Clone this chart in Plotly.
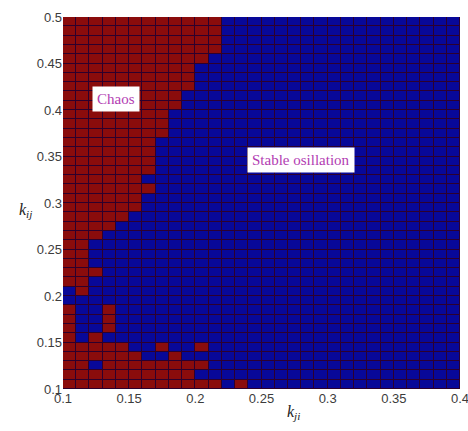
import plotly.graph_objects as go

# grid: k_ji (x) from 0.1 to 0.4 step 0.01, k_ij (y) from 0.1 to 0.5 step 0.01
x_centers = [round(0.105 + 0.01 * i, 3) for i in range(30)]
y_centers = [round(0.105 + 0.01 * j, 3) for j in range(40)]

# columns (0-based, x index) that are chaotic in each row (row 0 = bottom)
chaos_cols = [
    [0, 1, 2, 3, 4, 5, 6, 7, 8, 9, 10, 11, 13],   # r0
    [0, 1, 2, 3, 4, 5, 6, 7, 8, 9],               # r1
    [0, 1, 3, 4, 5, 6, 7, 8, 9, 10],              # r2
    [0, 1, 2, 3, 4, 5, 8],                        # r3
    [0, 1, 2, 3, 4, 7, 10],                       # r4
    [0, 2],                                       # r5
    [0, 3],                                       # r6
    [0, 3],                                       # r7
    [0, 3],                                       # r8
    [],                                           # r9
    [1],                                          # r10
    [0, 1],                                       # r11
    [0, 1, 2],                                    # r12
    [0, 1],                                       # r13
    [0, 1],                                       # r14
    [0, 1],                                       # r15
    [0, 1, 2],                                    # r16
    [0, 1, 2, 3],                                 # r17
    [0, 1, 2, 3, 4],                              # r18
    [0, 1, 2, 3, 4, 5],                           # r19
    [0, 1, 2, 3, 4, 5],                           # r20
    [0, 1, 2, 3, 4, 5, 6],                        # r21
    [0, 1, 2, 3, 4, 5],                           # r22
    [0, 1, 2, 3, 4, 5, 6],                        # r23
    [0, 1, 2, 3, 4, 5, 6],                        # r24
    [0, 1, 2, 3, 4, 5, 6],                        # r25
    [0, 1, 2, 3, 4, 5, 6],                        # r26
    [0, 1, 2, 3, 4, 5, 6, 7],                     # r27
    [0, 1, 2, 3, 4, 5, 6, 7],                     # r28
    [0, 1, 2, 3, 4, 5, 6, 7],                     # r29
    [0, 1, 2, 3, 4, 5, 6, 7, 8],                  # r30
    [0, 1, 2, 3, 4, 5, 6, 7, 8],                  # r31
    [0, 1, 2, 3, 4, 5, 6, 7, 8, 9],               # r32
    [0, 1, 2, 3, 4, 5, 6, 7, 8, 9],               # r33
    [0, 1, 2, 3, 4, 5, 6, 7, 8, 9],               # r34
    [0, 1, 2, 3, 4, 5, 6, 7, 8, 9, 10],           # r35
    [0, 1, 2, 3, 4, 5, 6, 7, 8, 9, 10, 11],       # r36
    [0, 1, 2, 3, 4, 5, 6, 7, 8, 9, 10, 11],       # r37
    [0, 1, 2, 3, 4, 5, 6, 7, 8, 9, 10, 11],       # r38
    [0, 1, 2, 3, 4, 5, 6, 7, 8, 9, 10, 11],       # r39
]

x_ticks = [0.1, 0.15, 0.2, 0.25, 0.3, 0.35, 0.4]
x_tick_text = ["0.1", "0.15", "0.2", "0.25", "0.3", "0.35", "0.4"]
y_ticks = [0.1, 0.15, 0.2, 0.25, 0.3, 0.35, 0.4, 0.45, 0.5]
y_tick_text = ["0.1", "0.15", "0.2", "0.25", "0.3", "0.35", "0.4", "0.45", "0.5"]

z = [[1 if c in row else 0 for c in range(len(x_centers))] for row in chaos_cols]

fig = go.Figure(
    go.Heatmap(
        x=x_centers,
        y=y_centers,
        z=z,
        zmin=0,
        zmax=1,
        colorscale=[[0, "rgb(8,8,152)"], [1, "rgb(138,12,12)"]],
        showscale=False,
        xgap=1,
        ygap=1,
        hoverinfo="skip",
    )
)

tick_font = dict(family="Liberation Sans, Arial, sans-serif", size=13, color="#3c3c3c")

fig.update_layout(
    width=468,
    height=431,
    margin=dict(l=63, r=8, t=17, b=42),
    paper_bgcolor="white",
    plot_bgcolor="rgb(45,0,45)",
    xaxis=dict(
        range=[0.1, 0.4],
        tickvals=x_ticks,
        ticktext=x_tick_text,
        showgrid=False,
        zeroline=False,
        ticks="",
        ticklen=0,
        tickfont=tick_font,
        automargin=False,
        ticklabeloverflow="allow",
    ),
    yaxis=dict(
        range=[0.1, 0.5],
        tickvals=y_ticks,
        ticktext=y_tick_text,
        showgrid=False,
        zeroline=False,
        ticks="",
        ticklen=0,
        tickfont=tick_font,
        automargin=False,
        ticklabeloverflow="allow",
    ),
    annotations=[
        dict(
            x=0.1 + (116 - 63) / 397 * 0.3,
            y=0.5 - (99 - 17) / 372 * 0.4,
            xref="x", yref="y",
            text="Chaos",
            showarrow=False,
            bgcolor="white",
            borderpad=4,
            font=dict(family="Liberation Serif, Times New Roman, serif", size=15, color="#b23cb2"),
        ),
        dict(
            x=0.1 + (301 - 63) / 397 * 0.3,
            y=0.5 - (160 - 17) / 372 * 0.4,
            xref="x", yref="y",
            text="Stable osillation",
            showarrow=False,
            bgcolor="white",
            borderpad=4,
            font=dict(family="Liberation Serif, Times New Roman, serif", size=15, color="#b23cb2"),
        ),
        dict(
            x=(293 - 63) / 397, y=-(424 - 389) / 372,
            xref="paper", yref="paper",
            text="<i>k</i><sub><i>ji</i></sub>",
            showarrow=False,
            font=dict(family="Liberation Serif, Times New Roman, serif", size=16, color="#222"),
        ),
        dict(
            x=-(63 - 17) / 397, y=(389 - 210) / 372,
            xref="paper", yref="paper",
            text="<i>k</i><sub><i>ij</i></sub>",
            showarrow=False,
            font=dict(family="Liberation Serif, Times New Roman, serif", size=16, color="#222"),
        ),
    ],
)

fig.write_html(
    "out.html",
    config={"displayModeBar": False},
    post_script="document.body.style.margin='0';document.body.style.overflow='hidden';",
)
